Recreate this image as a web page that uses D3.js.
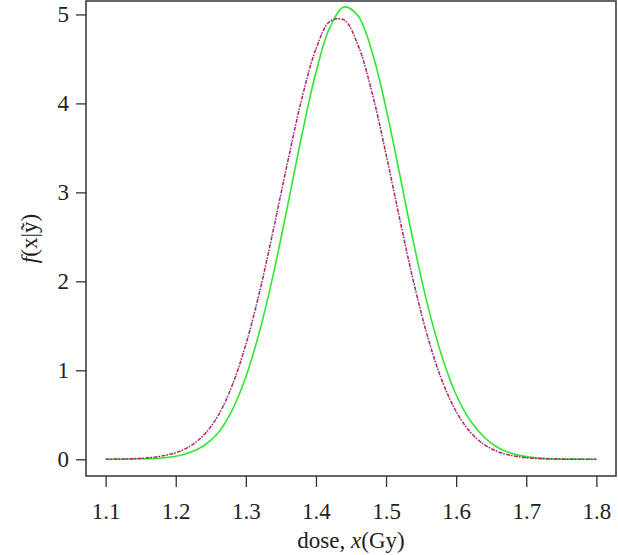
<!DOCTYPE html>
<html>
<head>
<meta charset="utf-8">
<script src="https://cdn.jsdelivr.net/npm/d3@7"></script>
<style>
  body { margin: 0; background: #fff; }
  svg { display: block; }
  .tick text { font-family: "Liberation Serif", "DejaVu Serif", serif; font-size: 23px; fill: #222; }
  .tick line { stroke: #333; stroke-width: 1.3; }
</style>
</head>
<body>
<div id="chart"></div>
<script>
// dose grid (Gy) and the two density curves
const doses = [1.10, 1.12, 1.14, 1.16, 1.18, 1.20, 1.22, 1.24, 1.26, 1.28,
               1.30, 1.32, 1.34, 1.36, 1.38, 1.40, 1.42, 1.44, 1.46, 1.48,
               1.50, 1.52, 1.54, 1.56, 1.58, 1.60, 1.62, 1.64, 1.66, 1.68,
               1.70, 1.72, 1.74, 1.76, 1.78, 1.80];

const greenDensity = [0.000, 0.001, 0.003, 0.006, 0.015, 0.034, 0.075, 0.152, 0.292, 0.545,
                      0.925, 1.450, 2.110, 2.867, 3.648, 4.348, 4.857, 5.083, 4.985, 4.581,
                      3.944, 3.182, 2.405, 1.710, 1.150, 0.725, 0.435, 0.248, 0.130, 0.065,
                      0.030, 0.013, 0.005, 0.002, 0.001, 0.000];

const dashDensity = [0.001, 0.003, 0.007, 0.016, 0.036, 0.074, 0.145, 0.272, 0.485, 0.820,
                     1.290, 1.895, 2.607, 3.355, 4.058, 4.611, 4.923, 4.939, 4.655, 4.122,
                     3.429, 2.681, 1.969, 1.359, 0.881, 0.537, 0.307, 0.165, 0.084, 0.040,
                     0.018, 0.007, 0.003, 0.001, 0.000, 0.000];

const xTicks = [1.1, 1.2, 1.3, 1.4, 1.5, 1.6, 1.7, 1.8];
const yTicks = [0, 1, 2, 3, 4, 5];

drawChart();

function drawChart() {
  const width = 618, height = 555;
  const left = 86, right = 616, top = 1, bottom = 476;

  const svg = d3.select("#chart").append("svg")
    .attr("width", width)
    .attr("height", height);

  // R style: 4% padding round data range
  const x = d3.scaleLinear().domain([1.072, 1.828]).range([left, right]);
  const y = d3.scaleLinear().domain([-0.188, 5.151]).range([bottom, top]);

  // axes
  const xAxis = svg.append("g")
    .attr("transform", "translate(0," + bottom + ")")
    .call(d3.axisBottom(x).tickValues(xTicks).tickSize(11).tickPadding(16)
      .tickSizeOuter(0).tickFormat(d3.format(".1f")));
  xAxis.select(".domain").remove();

  const yAxis = svg.append("g")
    .attr("transform", "translate(" + left + ",0)")
    .call(d3.axisLeft(y).tickValues(yTicks).tickSize(10).tickPadding(7)
      .tickSizeOuter(0).tickFormat(d3.format("d")));
  yAxis.select(".domain").remove();

  // curves
  const line = d3.line()
    .x((d, i) => x(doses[i]))
    .y(d => y(d))
    .curve(d3.curveCatmullRom.alpha(0.5));

  svg.append("path")
    .attr("fill", "none")
    .attr("stroke", "#2ee82e")
    .attr("stroke-width", 1.6)
    .attr("d", line(greenDensity));

  // the dash-dot curve is a red dashed line with a blue dotted line on top
  svg.append("path")
    .attr("fill", "none")
    .attr("stroke", "#c8204a")
    .attr("stroke-width", 1.5)
    .attr("stroke-dasharray", "4,4")
    .attr("d", line(dashDensity));

  svg.append("path")
    .attr("fill", "none")
    .attr("stroke", "#4a2fd8")
    .attr("stroke-width", 1.5)
    .attr("stroke-dasharray", "1.5,6.5")
    .attr("stroke-dashoffset", -5)
    .attr("d", line(dashDensity));

  // frame
  svg.append("rect")
    .attr("x", left)
    .attr("y", top)
    .attr("width", right - left)
    .attr("height", bottom - top)
    .attr("fill", "none")
    .attr("stroke", "#333")
    .attr("stroke-width", 1.5);

  // axis titles
  const xt = svg.append("text")
    .attr("x", (left + right) / 2)
    .attr("y", 548)
    .attr("text-anchor", "middle")
    .style("font-family", "'Liberation Serif', serif")
    .style("font-size", "23px")
    .style("fill", "#222");
  xt.append("tspan").text("dose, ");
  xt.append("tspan").style("font-style", "italic").text("x");
  xt.append("tspan").text("(Gy)");

  const yt = svg.append("text")
    .attr("transform", "translate(37," + ((top + bottom) / 2) + ") rotate(-90)")
    .attr("text-anchor", "middle")
    .style("font-family", "'Liberation Serif', serif")
    .style("font-size", "23px")
    .style("fill", "#222");
  yt.append("tspan").style("font-style", "italic").text("f");
  yt.append("tspan").text("(x|ỹ)");
}
</script>
</body>
</html>
